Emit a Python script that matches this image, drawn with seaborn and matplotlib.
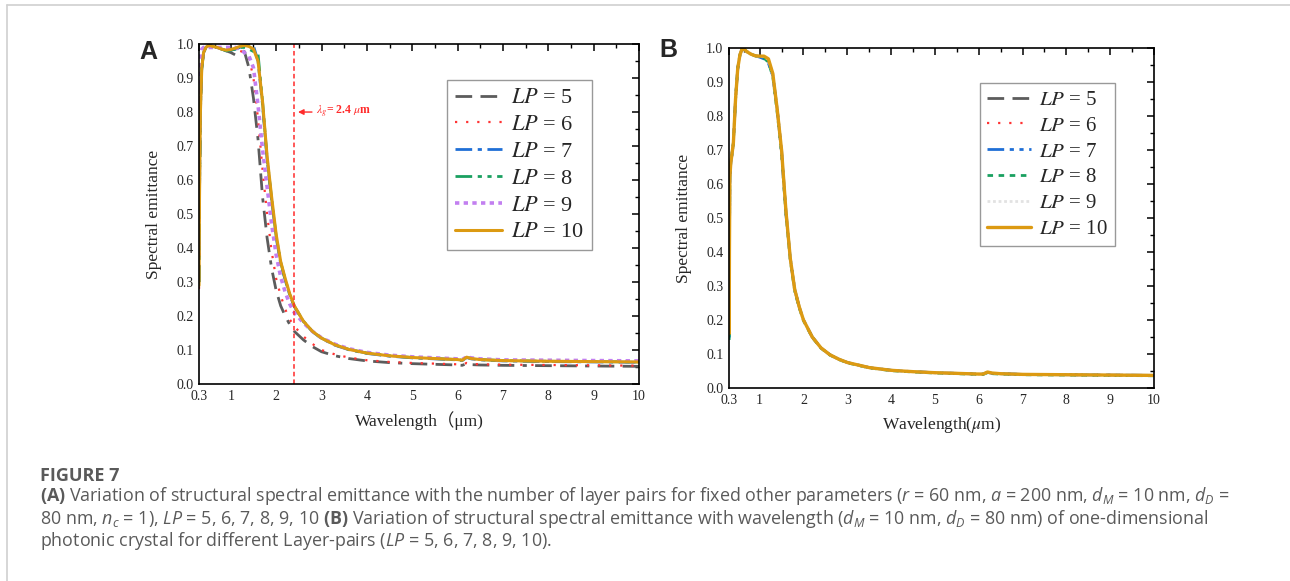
import numpy as np
import pandas as pd
import matplotlib
matplotlib.use("Agg")
import matplotlib.pyplot as plt
from matplotlib.font_manager import FontProperties
from matplotlib.lines import Line2D
import seaborn as sns

# ---------------- data: panel A ----------------
wl_a = [0.3, 0.31, 0.33, 0.36, 0.4, 0.45, 0.5, 0.55, 0.6, 0.7, 0.8, 0.9, 1.0, 1.1, 1.2,
        1.3, 1.4, 1.5, 1.6, 1.7, 1.8, 1.9, 2.0, 2.1, 2.2, 2.3, 2.4, 2.6, 2.8, 3.0,
        3.3, 3.6, 4.0, 4.5, 5.0, 5.5, 6.0, 6.1, 6.2, 6.3, 6.5, 7.0, 8.0, 9.0, 10.0]

a_lp5 = [0.30, 0.55, 0.80, 0.93, 0.975, 0.99, 0.995, 0.995, 0.993, 0.99, 0.985, 0.98, 0.975,
         0.968, 0.975, 0.978, 0.93, 0.84, 0.72, 0.55, 0.43, 0.34, 0.275, 0.23, 0.20, 0.175,
         0.155, 0.13, 0.11, 0.095, 0.083, 0.075, 0.068, 0.063, 0.060, 0.058, 0.056, 0.055,
         0.060, 0.057, 0.056, 0.055, 0.054, 0.053, 0.052]
a_lp6 = [0.28, 0.55, 0.80, 0.93, 0.975, 0.99, 0.995, 0.995, 0.993, 0.99, 0.985, 0.982, 0.98,
         0.978, 0.98, 0.975, 0.96, 0.90, 0.78, 0.63, 0.50, 0.39, 0.31, 0.26, 0.22, 0.19,
         0.17, 0.14, 0.118, 0.10, 0.087, 0.078, 0.07, 0.065, 0.062, 0.06, 0.058, 0.057,
         0.062, 0.059, 0.058, 0.057, 0.056, 0.055, 0.054]
a_lp7 = [0.30, 0.56, 0.81, 0.93, 0.975, 0.99, 0.995, 0.995, 0.993, 0.99, 0.985, 0.98, 0.982,
         0.985, 0.99, 0.995, 1.0, 0.995, 0.95, 0.82, 0.66, 0.54, 0.43, 0.355, 0.305, 0.262,
         0.228, 0.184, 0.154, 0.134, 0.114, 0.101, 0.090, 0.082, 0.077, 0.074, 0.071, 0.069,
         0.078, 0.074, 0.071, 0.068, 0.066, 0.065, 0.064]
a_lp8 = [0.30, 0.56, 0.81, 0.93, 0.975, 0.99, 0.995, 0.995, 0.993, 0.99, 0.985, 0.98, 0.982,
         0.985, 0.99, 0.99, 0.985, 0.978, 0.972, 0.83, 0.665, 0.545, 0.435, 0.358, 0.307,
         0.263, 0.229, 0.185, 0.155, 0.135, 0.115, 0.102, 0.091, 0.083, 0.078, 0.075, 0.072,
         0.070, 0.079, 0.075, 0.072, 0.069, 0.067, 0.066, 0.065]
a_lp9 = [0.60, 0.92, 0.97, 0.985, 0.99, 0.99, 0.99, 0.99, 0.99, 0.99, 0.99, 0.99, 0.99,
         0.99, 0.985, 0.975, 0.965, 0.93, 0.82, 0.69, 0.58, 0.47, 0.38, 0.315, 0.27, 0.235,
         0.21, 0.18, 0.155, 0.136, 0.117, 0.104, 0.093, 0.085, 0.080, 0.077, 0.074, 0.072,
         0.080, 0.077, 0.074, 0.071, 0.070, 0.069, 0.068]
a_lp10 = [0.29, 0.55, 0.80, 0.93, 0.975, 0.99, 0.995, 0.995, 0.993, 0.99, 0.985, 0.982, 0.984,
          0.988, 0.993, 0.996, 0.993, 0.985, 0.95, 0.83, 0.67, 0.55, 0.44, 0.36, 0.31, 0.265,
          0.23, 0.185, 0.155, 0.135, 0.115, 0.102, 0.091, 0.083, 0.078, 0.075, 0.072, 0.070,
          0.079, 0.075, 0.072, 0.069, 0.067, 0.066, 0.065]

# ---------------- data: panel B ----------------
wl_b = [0.3, 0.305, 0.31, 0.32, 0.34, 0.37, 0.4, 0.45, 0.5, 0.55, 0.6, 0.65, 0.7, 0.8, 0.9,
        1.0, 1.1, 1.2, 1.3, 1.4, 1.5, 1.6, 1.7, 1.8, 1.9, 2.0, 2.2, 2.4, 2.6, 2.8, 3.0,
        3.5, 4.0, 4.5, 5.0, 5.5, 6.0, 6.1, 6.2, 6.3, 6.5, 7.0, 8.0, 9.0, 10.0]

b_lp5 = [0.45, 0.16, 0.40, 0.62, 0.66, 0.69, 0.72, 0.85, 0.94, 0.98, 0.998, 0.996, 0.99,
         0.982, 0.977, 0.975, 0.972, 0.962, 0.92, 0.82, 0.70, 0.52, 0.38, 0.29, 0.24, 0.20,
         0.15, 0.118, 0.098, 0.085, 0.075, 0.060, 0.052, 0.048, 0.045, 0.043, 0.041, 0.041,
         0.046, 0.043, 0.042, 0.040, 0.039, 0.038, 0.037]
b_lp6 = [0.45, 0.16, 0.40, 0.62, 0.66, 0.69, 0.72, 0.85, 0.94, 0.98, 0.998, 0.996, 0.99,
         0.982, 0.977, 0.975, 0.973, 0.964, 0.922, 0.82, 0.70, 0.52, 0.38, 0.29, 0.24, 0.20,
         0.15, 0.118, 0.098, 0.085, 0.075, 0.060, 0.052, 0.048, 0.045, 0.043, 0.041, 0.041,
         0.046, 0.043, 0.042, 0.040, 0.039, 0.038, 0.037]
b_lp7 = [0.50, 0.15, 0.40, 0.62, 0.66, 0.69, 0.72, 0.85, 0.94, 0.98, 0.998, 0.996, 0.99,
         0.982, 0.977, 0.973, 0.968, 0.955, 0.918, 0.82, 0.69, 0.51, 0.38, 0.29, 0.24, 0.20,
         0.15, 0.118, 0.098, 0.085, 0.075, 0.060, 0.052, 0.048, 0.045, 0.043, 0.041, 0.041,
         0.046, 0.043, 0.042, 0.040, 0.039, 0.038, 0.037]
b_lp8 = [0.55, 0.14, 0.40, 0.62, 0.66, 0.69, 0.72, 0.85, 0.94, 0.98, 0.998, 0.996, 0.99,
         0.982, 0.977, 0.974, 0.970, 0.958, 0.915, 0.81, 0.69, 0.51, 0.375, 0.285, 0.237,
         0.198, 0.149, 0.117, 0.097, 0.084, 0.074, 0.059, 0.051, 0.047, 0.044, 0.042, 0.040,
         0.040, 0.045, 0.042, 0.041, 0.039, 0.038, 0.037, 0.036]
b_lp9 = [0.45, 0.16, 0.40, 0.62, 0.66, 0.69, 0.72, 0.85, 0.94, 0.98, 0.998, 0.996, 0.99,
         0.982, 0.977, 0.976, 0.975, 0.966, 0.925, 0.82, 0.70, 0.52, 0.38, 0.29, 0.24, 0.20,
         0.15, 0.118, 0.098, 0.085, 0.075, 0.060, 0.052, 0.048, 0.045, 0.043, 0.041, 0.041,
         0.046, 0.043, 0.042, 0.040, 0.039, 0.038, 0.037]
b_lp10 = [0.45, 0.16, 0.40, 0.62, 0.66, 0.69, 0.72, 0.85, 0.94, 0.98, 0.998, 0.996, 0.99,
          0.982, 0.977, 0.976, 0.976, 0.968, 0.925, 0.82, 0.70, 0.52, 0.38, 0.29, 0.24, 0.20,
          0.15, 0.118, 0.098, 0.085, 0.075, 0.060, 0.052, 0.048, 0.045, 0.043, 0.041, 0.041,
          0.047, 0.044, 0.042, 0.040, 0.039, 0.038, 0.037]

lp_labels = ["5", "6", "7", "8", "9", "10"]
x_ticks = [0.3, 1, 2, 3, 4, 5, 6, 7, 8, 9, 10]
x_tick_labels = ["0.3", "1", "2", "3", "4", "5", "6", "7", "8", "9", "10"]
y_ticks = [0.0, 0.1, 0.2, 0.3, 0.4, 0.5, 0.6, 0.7, 0.8, 0.9, 1.0]

# ---------------- style ----------------
sns.set_style("white")
plt.rcParams["font.family"] = ["Liberation Serif", "Noto Sans CJK SC", "DejaVu Serif"]
plt.rcParams["mathtext.fontset"] = "custom"
plt.rcParams["mathtext.rm"] = "Open Sans"
plt.rcParams["mathtext.it"] = "Open Sans:italic"
plt.rcParams["mathtext.bf"] = "Open Sans:bold"

styles_a = [
    dict(color="#5c5c5c", lw=2.0, ls=(0, (6, 3, 6, 3, 1.5, 3))),
    dict(color="#ff3333", lw=1.6, ls=(0, (1, 4))),
    dict(color="#1f6fd6", lw=2.0, ls=(0, (6, 2, 1.5, 2))),
    dict(color="#1aa060", lw=2.0, ls=(0, (6, 2, 1.5, 2, 1.5, 2))),
    dict(color="#c27ff0", lw=2.6, ls=(0, (1.2, 1.2))),
    dict(color="#dc9a12", lw=2.2, ls="-"),
]
styles_b = [
    dict(color="#5c5c5c", lw=2.0, ls=(0, (6, 3, 6, 3, 1.5, 3))),
    dict(color="#ff3333", lw=1.6, ls=(0, (1, 4))),
    dict(color="#1f6fd6", lw=2.0, ls=(0, (6, 2, 1.5, 2, 1.5, 2))),
    dict(color="#1aa060", lw=2.0, ls=(0, (2, 2))),
    dict(color="#e2e2e2", lw=2.0, ls=(0, (1, 1))),
    dict(color="#dc9a12", lw=2.4, ls="-"),
]

fig = plt.figure(figsize=(12.9, 5.81), dpi=100)
axA = fig.add_axes([0.1543, 0.339, 0.3411, 0.5852])
axB = fig.add_axes([0.5651, 0.3322, 0.3295, 0.5852])


def draw(ax, wl, series, styles, legend_anchor, legend_size, labelspacing):
    handles = []
    for vals, lab, st in zip(series, lp_labels, styles):
        df = pd.DataFrame({"wl": wl, "e": vals})
        sns.lineplot(data=df, x="wl", y="e", ax=ax, color=st["color"], lw=st["lw"],
                     linestyle=st["ls"], legend=False)
        handles.append(Line2D([], [], color=st["color"], lw=st["lw"], linestyle=st["ls"],
                              label=r"$LP$ = " + lab))
    ax.set_xlim(0.3, 10)
    ax.set_ylim(0, 1.0)
    ax.set_xticks(x_ticks)
    ax.set_xticklabels(x_tick_labels)
    ax.set_xticks([0.65, 1.5, 2.5, 3.5, 4.5, 5.5, 6.5, 7.5, 8.5, 9.5], minor=True)
    ax.set_yticks(y_ticks)
    ax.set_yticklabels([f"{v:.1f}" for v in y_ticks])
    ax.set_yticks(np.arange(0.05, 1.0, 0.1), minor=True)
    ax.tick_params(which="both", direction="in", top=True, right=True, labelsize=10,
                   color="black", pad=4)
    ax.tick_params(which="major", length=5, width=1.1)
    ax.tick_params(which="minor", length=3, width=1.0)
    for s in ax.spines.values():
        s.set_color("black")
        s.set_linewidth(1.2)
    ax.set_ylabel("Spectral emittance", fontsize=12.5, labelpad=10)
    prop = FontProperties(family="Liberation Serif", size=legend_size, math_fontfamily="stix")
    leg = ax.legend(handles=handles, loc="upper left", bbox_to_anchor=legend_anchor,
                    borderaxespad=0, prop=prop, fancybox=False, frameon=True,
                    edgecolor="#808080", handlelength=2.1, handletextpad=0.4,
                    labelspacing=labelspacing, borderpad=0.35)
    leg.get_frame().set_linewidth(1.0)


draw(axA, wl_a, [a_lp5, a_lp6, a_lp7, a_lp8, a_lp9, a_lp10], styles_a,
     (0.564, 0.894), 16, 0.28)
draw(axB, wl_b, [b_lp5, b_lp6, b_lp7, b_lp8, b_lp9, b_lp10], styles_b,
     (0.59, 0.897), 15, 0.3)

axA.set_xlabel("Wavelength\uff08\u03bcm)", fontsize=12.5, labelpad=6,
               family=["Liberation Serif", "Noto Sans CJK SC"])
axB.set_xlabel("Wavelength($\\mu$m)", fontsize=12.5, labelpad=6, math_fontfamily="stix")

# lambda_g annotation
axA.axvline(2.4, color="#ff2a2a", lw=1.1, ls=(0, (3, 2)))
axA.annotate("", xy=(2.42, 0.80), xytext=(2.85, 0.80),
             arrowprops=dict(arrowstyle="-|>", color="#ff2a2a", lw=1.0, mutation_scale=8))
axA.text(2.88, 0.80, "$\\lambda_g$= 2.4 $\\mu$m", color="#ff2a2a", fontsize=8.5,
         fontweight="bold", va="center", ha="left", math_fontfamily="stix")

# panel letters
fig.text(148 / 1290, 1 - 52 / 581, "A", fontsize=18, fontweight="bold",
         family="Liberation Sans", ha="center", va="center")
fig.text(668 / 1290, 1 - 50 / 581, "B", fontsize=18, fontweight="bold",
         family="Liberation Sans", ha="center", va="center")

# page frame lines
fig.add_artist(Line2D([7 / 1290, 1.0], [1 - 5 / 581, 1 - 5 / 581], color="#d0d0d0", lw=1.2))
fig.add_artist(Line2D([7 / 1290, 7 / 1290], [1 - 5 / 581, 0.0], color="#d0d0d0", lw=1.2))

# caption
cap_col = "#5a5a5a"
cap_left = 40 / 1290
fig.text(cap_left, 1 - 476 / 581, "FIGURE 7", fontsize=13, family="Open Sans",
         fontweight="bold", color=cap_col, va="center", ha="left")
cap_lines = [
    r"$\mathbf{(A)}$ Variation of structural spectral emittance with the number of layer pairs for fixed other parameters ($r$ = 60 nm, $a$ = 200 nm, $d_M$ = 10 nm, $d_D$ =",
    r"80 nm, $n_c$ = 1), $LP$ = 5, 6, 7, 8, 9, 10 $\mathbf{(B)}$ Variation of structural spectral emittance with wavelength ($d_M$ = 10 nm, $d_D$ = 80 nm) of one-dimensional",
    r"photonic crystal for different Layer-pairs ($LP$ = 5, 6, 7, 8, 9, 10).",
]
for i, line in enumerate(cap_lines):
    fig.text(cap_left, 1 - (496 + 22.5 * i) / 581, line, fontsize=12.9, family="Open Sans",
             color=cap_col, va="center", ha="left")

fig.savefig("out.png", dpi=100)
